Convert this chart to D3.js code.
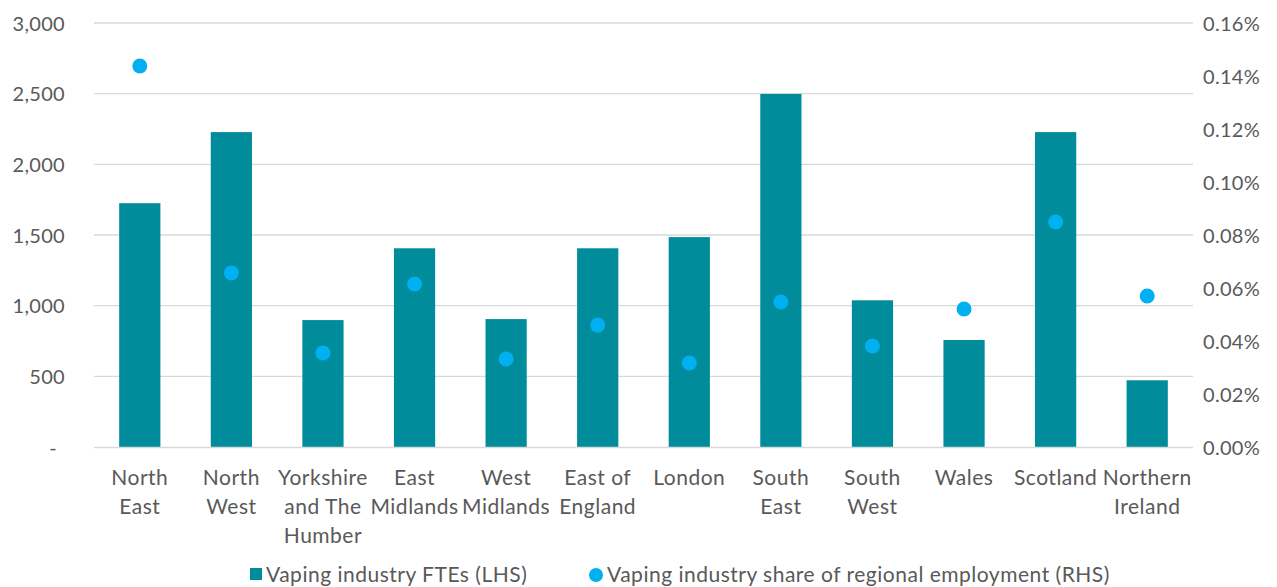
<!DOCTYPE html>
<html><head><meta charset="utf-8">
<script src="https://cdn.jsdelivr.net/npm/d3@7"></script>
<style>body{margin:0;background:#fff;} svg{display:block;} text{font-family:Lato,"Open Sans",sans-serif;fill:#595959;}</style>
</head><body><svg id="c" width="1277" height="587"></svg>
<script>
const categories = ["North East","North West","Yorkshire and The Humber","East Midlands","West Midlands","East of England","London","South East","South West","Wales","Scotland","Northern Ireland"];
const categoryLines = [["North","East"],["North","West"],["Yorkshire","and The","Humber"],["East","Midlands"],["West","Midlands"],["East of","England"],["London"],["South","East"],["South","West"],["Wales"],["Scotland"],["Northern","Ireland"]];
const ftes = [1725,2228,898,1406,905,1406,1485,2498,1038,757,2228,472];
const share = [0.1438,0.0657,0.0355,0.0615,0.0332,0.0460,0.0317,0.0547,0.0381,0.0521,0.0849,0.0570];
const leftTicks = [0,500,1000,1500,2000,2500,3000];
const rightTicks = [0,0.02,0.04,0.06,0.08,0.10,0.12,0.14,0.16];
const seriesNames = ["Vaping industry FTEs (LHS)","Vaping industry share of regional employment (RHS)"];

const svg = d3.select("#c");
const L = 94, R = 1193, T = 23, B = 447;
const x = d3.scaleBand().domain(categories).range([L,R]).paddingInner(0.55).paddingOuter(0.275);
const y = d3.scaleLinear().domain([0,3000]).range([B,T]);
const y2 = d3.scaleLinear().domain([0,0.16]).range([B,T]);

svg.append("g").selectAll("line").data(leftTicks.filter(d=>d>0)).join("line")
  .attr("x1",L).attr("x2",R).attr("y1",d=>y(d)).attr("y2",d=>y(d))
  .attr("stroke","#d9d9d9").attr("stroke-width",1.3);

const la = svg.append("g").attr("transform",`translate(${L},0)`)
  .call(d3.axisLeft(y).tickValues(leftTicks).tickSize(0).tickPadding(29)
  .tickFormat(d=>d===0?"-":d3.format(",")(d)));
la.select(".domain").remove();
la.selectAll("text").style("font-size","20px").style("letter-spacing","0.3px").attr("fill","#595959").attr("dy","0.35em");
la.selectAll(".tick").filter(d=>d===0).select("text").attr("dx",-8);

const ra = svg.append("g").attr("transform",`translate(${R},0)`)
  .call(d3.axisRight(y2).tickValues(rightTicks).tickSize(0).tickPadding(10)
  .tickFormat(d=>d3.format(".2f")(d)+"%"));
ra.select(".domain").remove();
ra.selectAll("text").style("font-size","20px").style("letter-spacing","0.3px").attr("fill","#595959").attr("dy","0.35em");

svg.append("g").selectAll("rect").data(categories).join("rect")
  .attr("x",d=>x(d)).attr("width",x.bandwidth())
  .attr("y",(d,i)=>y(ftes[i])).attr("height",(d,i)=>B-y(ftes[i]))
  .attr("fill","#008C9A");

svg.append("line").attr("x1",L).attr("x2",R).attr("y1",B+0.5).attr("y2",B+0.5)
  .attr("stroke","#d9d9d9").attr("stroke-width",1.3);

svg.append("g").selectAll("circle").data(categories).join("circle")
  .attr("cx",d=>x(d)+x.bandwidth()/2).attr("cy",(d,i)=>y2(share[i])).attr("r",7.5)
  .attr("fill","#00B0F0");

const xl = svg.append("g").selectAll("text").data(categories).join("text")
  .attr("text-anchor","middle").style("font-size","21px").style("letter-spacing","0.5px")
  .attr("x",d=>x(d)+x.bandwidth()/2).attr("y",485);
xl.each(function(d,i){
  const t=d3.select(this);
  categoryLines[i].forEach((ln,j)=>t.append("tspan").attr("x",x(d)+x.bandwidth()/2).attr("y",485+j*29).text(ln));
});

const lg = svg.append("g");
lg.append("rect").attr("x",250).attr("y",568).attr("width",12).attr("height",12).attr("fill","#008C9A");
lg.append("text").attr("x",266).attr("y",582).style("font-size","21px").style("letter-spacing","0.5px").text(seriesNames[0]);
lg.append("circle").attr("cx",596).attr("cy",575).attr("r",7).attr("fill","#00B0F0");
lg.append("text").attr("x",607).attr("y",582).style("font-size","21px").style("letter-spacing","0.5px").text(seriesNames[1]);
</script></body></html>
